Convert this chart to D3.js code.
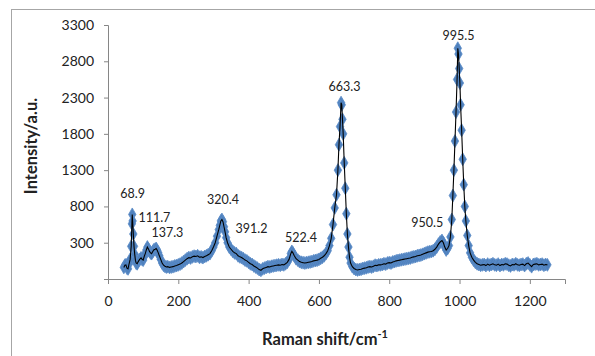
<!DOCTYPE html>
<html>
<head>
<meta charset="utf-8">
<script src="https://cdn.jsdelivr.net/npm/d3@7"></script>
<style>
  body { margin: 0; background: #fff; }
  text { font-family: Lato, "Open Sans", sans-serif; fill: #222; }
</style>
</head>
<body>
<script>
var width = 595,
    height = 356;

// Raman spectrum (cm-1, a.u.)
var ramanShift = [45,48,51,54,57,60,63,66,68,69,70,72,74,76,78,80,83,86,90,94,97,100,103,106,109,112,115,118,121,124,127,130,134,137,140,143,146,150,154,158,162,166,170,175,180,185,190,195,200,205,210,215,220,225,230,235,240,245,250,255,260,265,270,275,280,285,290,295,300,305,310,315,318,321,324,327,330,333,336,340,345,350,355,360,365,370,375,380,385,390,395,400,405,410,415,420,425,430,435,440,445,450,455,460,465,470,475,480,485,490,495,500,505,510,515,520,523,526,530,535,540,545,550,555,560,565,570,575,580,585,590,595,600,605,610,615,620,625,630,635,640,645,650,654,657,660,663,665,667,669,672,675,678,681,684,687,690,695,700,705,710,715,720,725,730,735,740,745,750,755,760,765,770,775,780,785,790,795,800,805,810,815,820,825,830,835,840,845,850,855,860,865,870,875,880,885,890,895,900,905,910,915,920,925,930,935,940,945,950,954,958,962,966,970,974,978,981,984,987,990,993,995,997,999,1001,1003,1006,1009,1012,1015,1018,1022,1026,1030,1035,1040,1045,1050,1055,1060,1065,1070,1075,1080,1085,1090,1095,1100,1105,1110,1115,1120,1125,1130,1135,1140,1145,1150,1155,1160,1165,1170,1175,1180,1185,1190,1195,1200,1205,1210,1215,1220,1225,1230,1235,1240,1245,1250];
var intensity = [-40,-10,-5,-50,-60,10,70,250,560,690,600,420,250,140,60,20,10,40,70,90,70,60,110,150,200,240,215,180,160,150,175,200,210,220,195,160,120,70,20,-10,-25,-35,-30,-40,-35,-30,-20,-15,-5,5,20,40,60,80,95,90,105,115,110,120,100,105,95,110,120,135,150,190,240,300,390,480,540,600,620,590,520,450,370,300,240,210,180,160,150,120,105,95,80,60,50,30,10,0,-20,-35,-50,-70,-80,-60,-50,-40,-30,-35,-25,-20,-15,-10,-5,-10,0,-5,10,30,70,150,180,160,120,80,60,40,30,25,20,25,30,35,40,50,55,60,70,85,100,120,150,190,260,360,550,780,960,1300,1650,1900,2230,2200,2000,1800,1400,1050,700,420,240,100,20,-30,-55,-70,-75,-70,-65,-55,-50,-45,-35,-30,-35,-25,-10,-15,-5,-5,0,10,5,20,25,20,35,40,50,55,60,65,70,75,80,85,90,100,105,110,120,125,130,140,150,160,170,175,180,190,210,240,280,310,330,300,240,200,220,260,380,620,950,1300,1700,2100,2550,2980,2900,2700,2500,2200,1850,1450,1100,800,600,400,260,160,100,60,30,10,0,-10,-5,0,-15,5,-10,0,10,-5,-10,5,-15,0,-5,10,5,-10,-20,0,-5,10,-5,-10,0,5,-15,10,20,-5,-30,0,5,10,-5,0,5,-10,0,-5];

// peak labels and where their text sits, in data units
var peakLabels = ["68.9","111.7","137.3","320.4","391.2","522.4","663.3","950.5","995.5"];
var labelShift = [70, 132, 169, 327, 408, 549, 673, 908, 997];
var labelIntensity = [971, 640, 434, 888, 489, 365, 2446, 572, 3148];

var xTicks = [0, 200, 400, 600, 800, 1000, 1200];
var yTicks = [300, 800, 1300, 1800, 2300, 2800, 3300];

var svg = d3.select("body").append("svg")
    .attr("width", width)
    .attr("height", height);

// chart area border (runs off the bottom and right edge)
svg.append("rect")
    .attr("x", 11.5)
    .attr("y", 9.5)
    .attr("width", 600)
    .attr("height", 360)
    .style("fill", "none")
    .style("stroke", "#a6a6a6");

var x = d3.scaleLinear().domain([0, 1300]).range([108, 565]);
var y = d3.scaleLinear().domain([-200, 3300]).range([279, 25]);

var xAxis = svg.append("g")
    .attr("transform", "translate(0," + y(-200) + ")")
    .call(d3.axisBottom(x).tickValues(xTicks).tickSize(5).tickPadding(12).tickFormat(d3.format("d")));

var yAxis = svg.append("g")
    .attr("transform", "translate(" + x(0) + ",0)")
    .call(d3.axisLeft(y).tickValues(yTicks).tickSize(4).tickPadding(10).tickFormat(d3.format("d")));

[xAxis, yAxis].forEach(function(g) {
  g.selectAll("path, line").style("stroke", "#868686");
  g.selectAll("text").style("font-size", "14px").style("fill", "#222");
});

var pts = ramanShift.map(function(d, i) { return [d, intensity[i]]; });

svg.append("g")
  .selectAll("path")
    .data(pts)
  .enter().append("path")
    .attr("transform", function(d) { return "translate(" + x(d[0]) + "," + y(d[1]) + ")"; })
    .attr("d", d3.symbol(d3.symbolDiamond, 48))
    .style("fill", "#4f81bd")
    .style("stroke", "#5b8cc8")
    .style("stroke-width", 0.8);

svg.append("path")
    .datum(pts)
    .attr("d", d3.line().x(function(d) { return x(d[0]); }).y(function(d) { return y(d[1]); }))
    .style("fill", "none")
    .style("stroke", "#000")
    .style("stroke-width", 1.1);

svg.append("g")
  .selectAll("text")
    .data(peakLabels)
  .enter().append("text")
    .attr("x", function(d, i) { return x(labelShift[i]); })
    .attr("y", function(d, i) { return y(labelIntensity[i]); })
    .attr("dy", "0.35em")
    .attr("text-anchor", "middle")
    .style("font-size", "12.5px")
    .text(function(d) { return d; });

// axis titles
var xt = svg.append("text")
    .attr("x", 325)
    .attr("y", 345)
    .attr("text-anchor", "middle")
    .style("font-size", "16.5px")
    .style("font-weight", "bold");
xt.append("tspan").text("Raman shift/cm");
xt.append("tspan").attr("dy", -7).style("font-size", "11px").text("-1");

svg.append("text")
    .attr("transform", "translate(37,146) rotate(-90)")
    .attr("text-anchor", "middle")
    .style("font-size", "16.5px")
    .style("font-weight", "bold")
    .text("Intensity/a.u.");
</script>
</body>
</html>
